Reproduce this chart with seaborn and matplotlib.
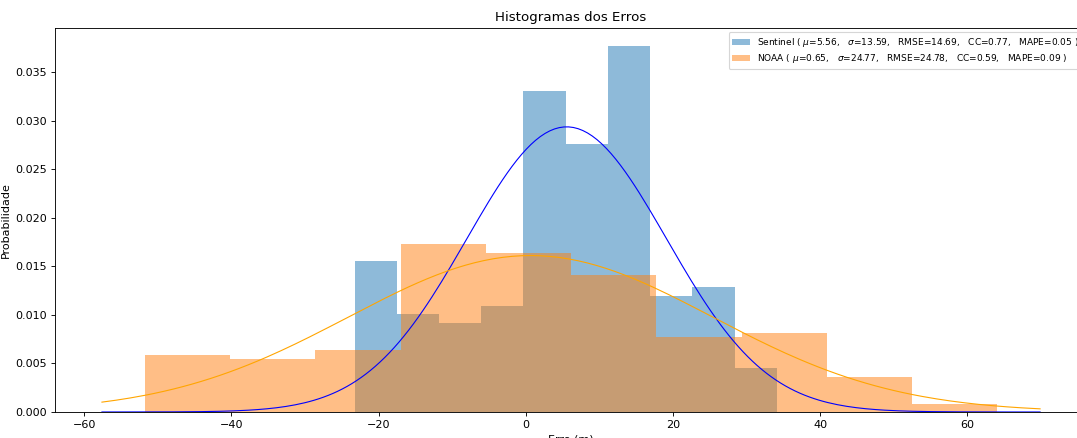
import seaborn as sns
import numpy as np
import matplotlib
matplotlib.use("Agg")
import matplotlib.pyplot as plt

# bin edges and densities
sentinel_edges = [-23.27, -17.53, -11.79, -6.05, -0.31, 5.43, 11.17, 16.91, 22.65, 28.39, 34.13]
sentinel_dens = [0.01553, 0.01005, 0.00912, 0.01094, 0.03305, 0.02755, 0.03765, 0.01193, 0.01285, 0.00455]

noaa_edges = [-51.8, -40.2, -28.6, -17.0, -5.45, 6.14, 17.73, 29.32, 40.91, 52.5, 64.1]
noaa_dens = [0.00586, 0.00545, 0.00635, 0.01728, 0.01633, 0.01409, 0.00775, 0.00816, 0.00365, 0.00080]

# fitted stats shown in the legend
sentinel_stats = dict(mu=5.56, sigma=13.59, rmse=14.69, cc=0.77, mape=0.05)
noaa_stats = dict(mu=0.65, sigma=24.77, rmse=24.78, cc=0.59, mape=0.09)


def label_for(name, s):
    return (f"{name} ( $\\mu$={s['mu']:.2f},   $\\sigma$={s['sigma']:.2f},   "
            f"RMSE={s['rmse']:.2f},   CC={s['cc']:.2f},   MAPE={s['mape']:.2f} )")


def centers(edges):
    e = np.asarray(edges)
    return (e[:-1] + e[1:]) / 2


def normal_pdf(x, mu, sigma):
    return np.exp(-0.5 * ((x - mu) / sigma) ** 2) / (sigma * np.sqrt(2 * np.pi))


# original looks like a bigger figure scaled down, so draw at dpi 80
fig = plt.figure(figsize=(1077 / 80, 438 / 80), dpi=80)
ax = fig.add_axes([0.0511, 0.0594, 0.9582, 0.8767])

sns.histplot(x=centers(sentinel_edges), weights=sentinel_dens, bins=sentinel_edges,
             stat="count", color="C0", alpha=0.5, linewidth=0,
             label=label_for("Sentinel", sentinel_stats), ax=ax)
sns.histplot(x=centers(noaa_edges), weights=noaa_dens, bins=noaa_edges,
             stat="count", color="C1", alpha=0.5, linewidth=0,
             label=label_for("NOAA", noaa_stats), ax=ax)

# normal curves over the histogram x-range
xmin, xmax = ax.get_xlim()
xs = np.linspace(xmin, xmax, 200)
ax.plot(xs, normal_pdf(xs, sentinel_stats["mu"], sentinel_stats["sigma"]), color="blue", linewidth=1)
ax.plot(xs, normal_pdf(xs, noaa_stats["mu"], noaa_stats["sigma"]), color="orange", linewidth=1)

ax.set_title("Histogramas dos Erros")
ax.set_xlabel("Erro (m)")
ax.set_ylabel("Probabilidade")
ax.legend(loc="upper right", fontsize=8.05, labelspacing=0.35)

fig.savefig("out.png", dpi=80)
